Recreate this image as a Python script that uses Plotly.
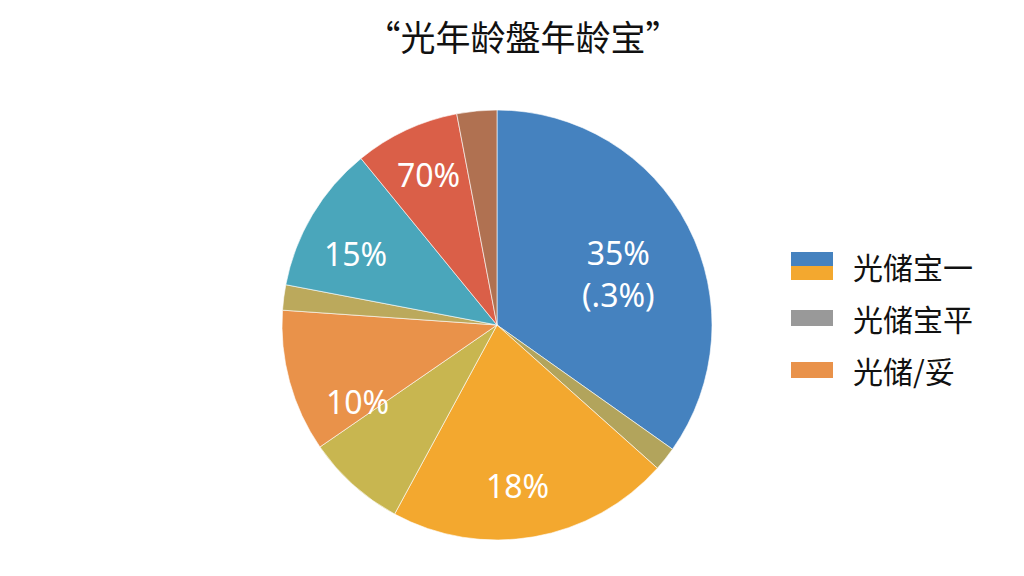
import plotly.graph_objects as go

# Data (clockwise from 12 o'clock)
slice_names = ["蓝", "橄榄1", "黄", "卡其", "橙", "橄榄2", "青", "红", "棕"]
slice_values = [34.8, 1.8, 21.3, 7.5, 10.7, 1.9, 11.1, 7.9, 3.0]
slice_colors = ["#4582bf", "#b2a45c", "#f3a82f", "#c8b650", "#e9924a",
                "#bba95c", "#4aa6bb", "#da5f48", "#b07151"]

label_texts = ["35%<br>(.3%)", "18%", "10%", "15%", "70%"]

title_text = "“光年龄盤年龄宝”"
legend_labels = ["光储宝一", "光储宝平", "光储/妥"]
legend_colors = [("#4582bf", "#f3a82f"), ("#999999", "#999999"), ("#e9924a", "#e9924a")]

# page offset (body margin) compensation helpers, pixel -> paper
OFF = 8
W, H = 1024, 576
def px(x):
    return (x - OFF) / W
def py(y):
    return 1 - (y - OFF) / H

fig = go.Figure()
fig.add_trace(go.Pie(
    labels=slice_names,
    values=slice_values,
    textinfo="none",
    sort=False,
    direction="clockwise",
    rotation=0,
    marker=dict(colors=slice_colors, line=dict(color="rgba(255,255,255,0.6)", width=1)),
    domain=dict(x=[px(282), px(712)], y=[py(540), py(110)]),
    showlegend=False,
    hoverinfo="skip",
))

label_pos = [(618, 273), (517, 485), (357, 401), (355, 254), (428, 174)]
annotations = []
for t, (x, y) in zip(label_texts, label_pos):
    annotations.append(dict(text=t, xref="paper", yref="paper", x=px(x), y=py(y),
                            xanchor="center", yanchor="middle", showarrow=False,
                            font=dict(family="Noto Sans, Open Sans, sans-serif", size=32, color="white")))

shapes = []
row_y = [266, 318, 370]
for i, (lab, (c1, c2)) in enumerate(zip(legend_labels, legend_colors)):
    yc = row_y[i]
    if c1 != c2:
        shapes.append(dict(type="rect", xref="paper", yref="paper",
                           x0=px(791), x1=px(833), y0=py(yc), y1=py(yc - 14),
                           fillcolor=c1, line=dict(width=0)))
        shapes.append(dict(type="rect", xref="paper", yref="paper",
                           x0=px(791), x1=px(833), y0=py(yc + 14), y1=py(yc),
                           fillcolor=c2, line=dict(width=0)))
    else:
        shapes.append(dict(type="rect", xref="paper", yref="paper",
                           x0=px(791), x1=px(833), y0=py(yc + 8), y1=py(yc - 8),
                           fillcolor=c1, line=dict(width=0)))
    annotations.append(dict(text=lab, xref="paper", yref="paper",
                            x=px(851), y=py(yc), xanchor="left", yanchor="middle",
                            showarrow=False,
                            font=dict(family="Noto Sans CJK SC, sans-serif", size=30, color="#111111")))

fig.update_layout(
    width=W, height=H,
    margin=dict(l=0, r=0, t=0, b=0),
    paper_bgcolor="white",
    plot_bgcolor="white",
    title=dict(text=title_text, x=px(523), xanchor="center", y=py(39), yanchor="middle",
               font=dict(family="Noto Sans CJK SC, sans-serif", size=35, color="#111111")),
    shapes=shapes,
    annotations=annotations,
)

fig.write_html("out.html")
